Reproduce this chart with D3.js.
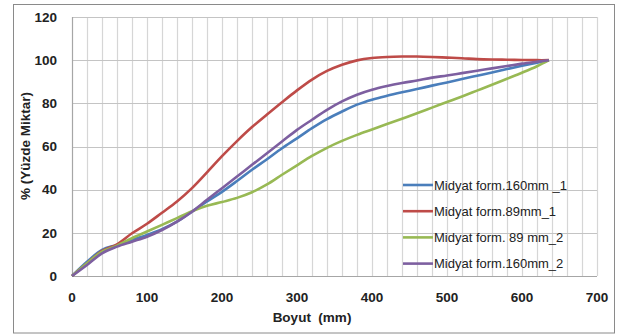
<!DOCTYPE html>
<html lang="tr">
<head>
    <meta charset="UTF-8">
    <title>Midyat form</title>
    <script src="https://cdn.jsdelivr.net/npm/d3@7"></script>
    <style>
        body { margin: 0; background: #fff; }
        svg { display: block; font-family: "Liberation Sans", Arial, sans-serif; }
    </style>
</head>
<body>
<svg width="617" height="334"></svg>
<script>
    // boyut (mm) - x values
    const sizes = [0, 20, 40, 60, 80, 100, 120, 140, 160, 180, 200, 220, 240, 260, 280, 300,
        320, 340, 360, 380, 400, 420, 440, 460, 480, 500, 520, 540, 560, 580, 600, 620, 636];

    const blue160_1 = [0, 6.6, 12.1, 14.4, 16.7, 19, 21.7, 25.2, 29.8, 34.5, 39, 44, 49.2, 54.1, 59.2, 63.8,
        68.5, 72.7, 76.2, 79.4, 81.7, 83.5, 85.1, 86.6, 88.2, 89.7, 91.3, 92.8, 94.3, 95.9, 97.4, 98.8, 100];
    const red89_1 = [0, 5.9, 11.6, 14.7, 19.8, 24.2, 29.3, 34.5, 40.7, 48, 55.5, 62.5, 69, 74.8, 80.5, 86,
        91, 95, 97.9, 99.9, 101, 101.5, 101.7, 101.7, 101.5, 101.2, 100.9, 100.5, 100.3, 100.2, 100.1, 100, 100];
    const green89_2 = [0, 5.9, 11.3, 14.1, 17.5, 20.6, 23.7, 26.8, 30, 32.5, 34.3, 36.2, 38.8, 42.4, 46.9, 51.3,
        55.6, 59.4, 62.6, 65.4, 67.9, 70.4, 72.9, 75.4, 78, 80.6, 83.2, 85.9, 88.6, 91.4, 94.2, 97.2, 100];
    const purple160_2 = [0, 5.1, 10.5, 13.6, 15.9, 18.2, 21.3, 25.2, 29.8, 35.3, 40.7, 46.1, 51.5, 56.9, 62.3, 67.7,
        72.4, 77, 80.9, 84, 86.3, 88, 89.4, 90.6, 91.9, 92.9, 94, 95.1, 96.2, 97.3, 98.4, 99.3, 100];

    const seriesNames = ["Midyat form.160mm _1", "Midyat form.89mm_1", "Midyat form. 89 mm_2", "Midyat form.160mm_2"];
    const seriesColors = ["#4a7ebb", "#be4b48", "#98b954", "#7d5fa0"];
    const seriesValues = [blue160_1, red89_1, green89_2, purple160_2];

    const xTicks = [0, 100, 200, 300, 400, 500, 600, 700];
    const yTicks = [0, 20, 40, 60, 80, 100, 120];

    const svg = d3.select("svg");

    // outer chart frame
    svg.append("rect")
        .attr("x", 13.5).attr("y", 4.5)
        .attr("width", 601).attr("height", 328.5)
        .attr("fill", "#fff").attr("stroke", "#8a8a8a").attr("stroke-width", 1);

    const x = d3.scaleLinear().domain([0, 700]).range([72, 597]);
    const y = d3.scaleLinear().domain([0, 120]).range([276, 17]);

    // vertical grid every 20 mm
    svg.append("g").selectAll("line")
        .data(d3.range(20, 701, 20))
        .enter().append("line")
        .attr("x1", d => Math.round(x(d)) + 0.5).attr("x2", d => Math.round(x(d)) + 0.5)
        .attr("y1", y(120)).attr("y2", y(0))
        .attr("stroke", "#d6d6d6").attr("stroke-width", 1.2);

    // horizontal grid
    svg.append("g").selectAll("line")
        .data(yTicks.slice(1))
        .enter().append("line")
        .attr("x1", x(0)).attr("x2", x(700))
        .attr("y1", d => Math.round(y(d)) + 0.5).attr("y2", d => Math.round(y(d)) + 0.5)
        .attr("stroke", "#c4c4c4").attr("stroke-width", 1.2);

    // axis lines
    svg.append("line")
        .attr("x1", x(0)).attr("x2", x(700))
        .attr("y1", Math.round(y(0)) + 0.5).attr("y2", Math.round(y(0)) + 0.5)
        .attr("stroke", "#a6a6a6").attr("stroke-width", 1.2);
    svg.append("line")
        .attr("x1", Math.round(x(0)) + 0.5).attr("x2", Math.round(x(0)) + 0.5)
        .attr("y1", y(120)).attr("y2", y(0))
        .attr("stroke", "#a6a6a6").attr("stroke-width", 1.2);

    // tick labels
    svg.append("g").selectAll("text")
        .data(yTicks)
        .enter().append("text")
        .attr("x", 57).attr("y", d => y(d))
        .attr("dy", "0.35em")
        .attr("text-anchor", "end")
        .attr("font-size", "13.5px").attr("font-weight", "bold").attr("fill", "#222")
        .text(d => d);

    svg.append("g").selectAll("text")
        .data(xTicks)
        .enter().append("text")
        .attr("x", d => x(d)).attr("y", 297)
        .attr("dy", "0.35em")
        .attr("text-anchor", "middle")
        .attr("font-size", "13.5px").attr("font-weight", "bold").attr("fill", "#222")
        .text(d => d);

    // axis titles
    svg.append("text")
        .attr("x", 312).attr("y", 317).attr("dy", "0.35em")
        .attr("text-anchor", "middle")
        .attr("font-size", "13.5px").attr("font-weight", "bold").attr("fill", "#222")
        .attr("xml:space", "preserve")
        .text("Boyut  (mm)");

    svg.append("text")
        .attr("transform", "translate(25,146) rotate(-90)")
        .attr("dy", "0.35em")
        .attr("text-anchor", "middle")
        .attr("font-size", "13.5px").attr("font-weight", "bold").attr("fill", "#222")
        .text("% (Yüzde Miktar)");

    // curves (smoothed like the spreadsheet lines)
    const line = d3.line()
        .x((d, i) => x(sizes[i]))
        .y(d => y(d))
        .curve(d3.curveCatmullRom.alpha(0.5));

    svg.append("g").selectAll("path")
        .data(seriesValues)
        .enter().append("path")
        .attr("d", d => line(d))
        .attr("fill", "none")
        .attr("stroke", (d, i) => seriesColors[i])
        .attr("stroke-width", 2.6)
        .attr("stroke-linejoin", "round");

    // legend
    const legend = svg.append("g").selectAll("g")
        .data(seriesNames)
        .enter().append("g")
        .attr("transform", (d, i) => "translate(403," + (185 + i * 26.2) + ")");

    legend.append("line")
        .attr("x1", 0).attr("x2", 30)
        .attr("stroke", (d, i) => seriesColors[i])
        .attr("stroke-width", 2.6);

    legend.append("text")
        .attr("x", 31).attr("dy", "0.35em")
        .attr("font-size", "13px").attr("fill", "#222")
        .text(d => d);
</script>
</body>
</html>
